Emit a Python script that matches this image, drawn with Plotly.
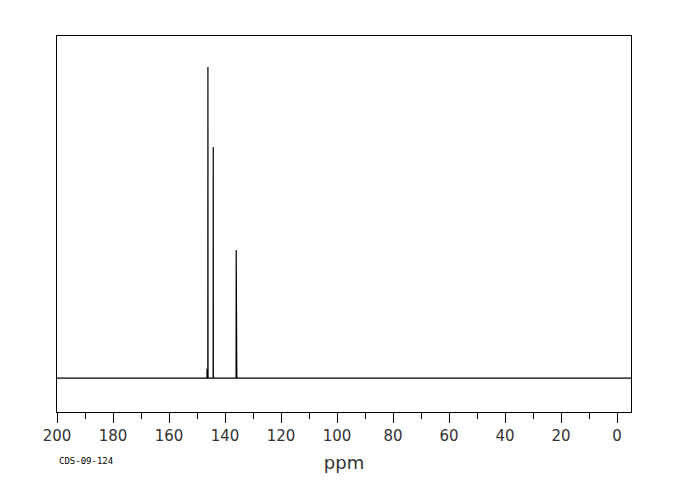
"""13C NMR spectrum (CDS-09-124) drawn as a stick spectrum."""

import plotly.graph_objects as go

# peak positions (ppm) and relative heights
peak_ppm = [146.4, 146.1, 144.2, 136.0, 135.8]
peak_height = [3.0, 100.0, 74.3, 41.2, 4.0]

x_range = [200, -5]
y_range = [-10.9, 110.0]
tick_vals = [200, 180, 160, 140, 120, 100, 80, 60, 40, 20, 0]
code_label = "CDS-09-124"


def stick_trace(ppm, heights, start, end, half_width=0.04):
    """Return x/y arrays of a baseline with a thin spike at each peak."""
    xs, ys = [start], [0.0]
    for p, h in sorted(zip(ppm, heights), reverse=True):
        xs += [p + half_width, p, p - half_width]
        ys += [0.0, h, 0.0]
    xs.append(end)
    ys.append(0.0)
    return xs, ys


xs, ys = stick_trace(peak_ppm, peak_height, x_range[0], x_range[1])

fig = go.Figure(
    go.Scatter(x=xs, y=ys, mode="lines", line=dict(color="black", width=1.2),
               hoverinfo="skip")
)

fig.update_xaxes(
    range=x_range,
    tickvals=tick_vals,
    ticks="outside", ticklen=10, tickwidth=1, tickcolor="black",
    minor=dict(dtick=10, tick0=0, ticks="outside", ticklen=6,
               tickcolor="black", tickwidth=1),
    showline=True, linecolor="black", linewidth=1, mirror=True,
    showgrid=False, zeroline=False,
    tickfont=dict(family="DejaVu Sans", size=15, color="#333"),
    title=dict(text="ppm", font=dict(family="DejaVu Sans", size=18, color="#333"),
               standoff=12),
)
fig.update_yaxes(
    range=y_range, showticklabels=False, ticks="",
    showline=True, linecolor="black", linewidth=1, mirror=True,
    showgrid=False, zeroline=False,
)

fig.add_annotation(
    text=code_label, xref="paper", yref="paper", x=0, y=-0.13,
    xanchor="left", yanchor="middle", showarrow=False,
    font=dict(family="DejaVu Sans Mono", size=9, color="black"),
)

# the page adds an 8px body margin, so the margins are shifted by 8px
fig.update_layout(
    width=680, height=500,
    margin=dict(l=49, r=57, t=28, b=96),
    plot_bgcolor="white", paper_bgcolor="white",
    showlegend=False,
)

fig.write_html("out.html")
